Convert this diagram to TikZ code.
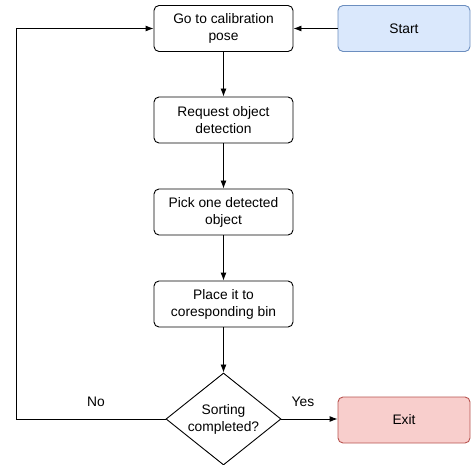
\documentclass[tikz,border=0pt]{standalone}
\usepackage{fontspec}
\setmainfont{Liberation Sans}
\usetikzlibrary{shapes.geometric,arrows.meta}
\definecolor{startfill}{HTML}{DAE8FC}
\definecolor{startdraw}{HTML}{6C8EBF}
\definecolor{exitfill}{HTML}{F8CECC}
\definecolor{exitdraw}{HTML}{B85450}
\begin{document}
\begin{tikzpicture}[x=1pt,y=-1pt,
  font=\fontsize{13.8}{17}\selectfont,
  proc/.style={draw, rounded corners=5pt, minimum width=139pt, minimum height=46pt, align=center, line width=0.9pt, inner sep=0pt},
  dec/.style={draw, diamond, minimum width=115pt, minimum height=92pt, aspect=1.25, align=center, line width=0.9pt, inner sep=0pt},
  conn/.style={line width=0.9pt, -{Latex[length=8pt,width=6pt]}},
  lab/.style={font=\fontsize{13.8}{17}\selectfont}]
\useasboundingbox (0,0) rectangle (471,465);
\node[proc] (calib) at (223.5,28.5) {Go to calibration\\pose};
\node[proc, fill=startfill, draw=startdraw, minimum width=132pt] (start) at (404,28.5) {Start};
\node[proc] (req) at (223.5,120) {Request object\\detection};
\node[proc] (pick) at (223.5,212) {Pick one detected\\object};
\node[proc] (place) at (223.5,304) {Place it to\\coresponding bin};
\node[dec] (sort) at (223.5,419) {Sorting\\completed?};
\node[proc, fill=exitfill, draw=exitdraw, minimum width=132pt] (exit) at (404,420) {Exit};
\coordinate (bl) at (16,419);
\coordinate (tl) at (16,28.5);
\draw[conn] (start) -- (calib);
\draw[conn] (calib) -- (req);
\draw[conn] (req) -- (pick);
\draw[conn] (pick) -- (place);
\draw[conn] (place) -- (sort);
\draw[conn] (sort.east) -- (exit.west |- sort.east);
\draw[conn] (sort.west) -- (bl) -- (tl) -- (calib.west);
\node[lab] (no) at (96,402) {No};
\node[lab] (yes) at (303,402) {Yes};
\end{tikzpicture}
\end{document}
